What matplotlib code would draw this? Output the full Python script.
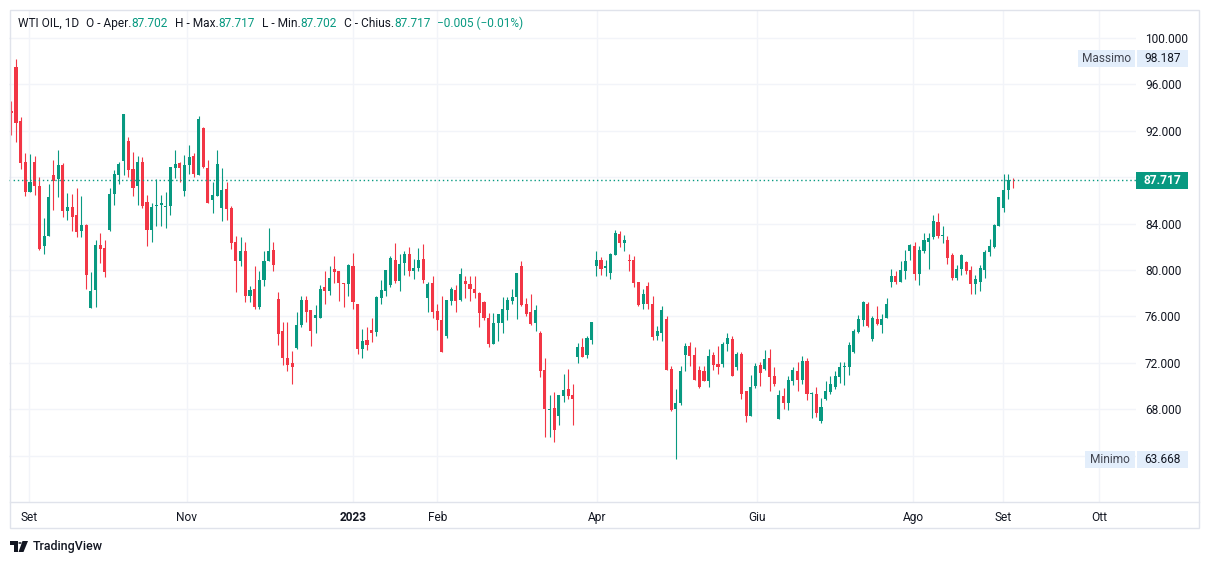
import numpy as np
import matplotlib.pyplot as plt
import matplotlib.transforms as mtransforms
from matplotlib.patches import Rectangle, Polygon, Circle
from matplotlib.lines import Line2D

plt.rcParams['font.family'] = ['Roboto', 'DejaVu Sans']

# daily candles WTI OIL
opens = [93.7, 97.5, 92.8, 89.3, 86.75, 89.3, 87.2, 82.1, 82.95, 88.2,
         87.8, 89.05, 85.1, 85.4, 84.7, 83.4, 83.9, 76.7, 78.25, 82.15,
         81.9, 83.45, 86.55, 88.2, 89.4, 91.1, 88.7, 87.2, 89.35, 85.9,
         83.45, 85.5, 85.6, 85.4, 85.5, 88.8, 89.2, 86.85, 89.05, 89.8,
         88.2, 92.2, 88.8, 86.0, 86.4, 85.35, 86.95, 85.3, 82.45, 80.75,
         81.6, 77.8, 78.4, 76.85, 79.15, 80.75, 81.75, 77.5, 74.7, 72.45,
         71.95, 73.3, 75.25, 77.4, 76.55, 75.85, 75.9, 78.5, 78.2, 80.05,
         79.9, 78.9, 78.75, 80.35, 77.1, 73.15, 73.95, 74.8, 74.65, 77.6,
         78.2, 78.7, 80.9, 79.05, 80.6, 81.4, 79.95, 80.15, 80.95, 77.6,
         78.9, 76.5, 75.7, 74.3, 77.3, 78.3, 77.4, 79.05, 78.8, 78.4,
         78.0, 77.2, 75.9, 73.6, 75.4, 75.45, 76.55, 77.3, 77.65, 80.35,
         77.1, 76.35, 75.45, 74.55, 71.4, 67.9, 68.1, 67.4, 69.15, 69.7,
         69.2, 72.5, 73.4, 72.7, 74.0, 80.3, 80.85, 80.2, 79.7, 81.25,
         83.1, 82.3, 80.9, 80.9, 78.95, 77.05, 78.6, 77.05, 74.3, 74.6,
         75.75, 71.45, 68.0, 68.5, 72.65, 73.45, 72.65, 71.4, 71.25, 70.4,
         72.7, 71.9, 71.9, 73.6, 74.05, 71.65, 72.8, 69.6, 67.4, 70.0,
         71.85, 71.5, 72.4, 70.85, 67.15, 69.1, 68.5, 70.4, 71.25, 70.5,
         72.15, 69.3, 69.3, 66.95, 68.85, 69.5, 69.9, 70.8, 71.6, 71.65,
         72.95, 74.65, 75.65, 77.1, 74.05, 75.8, 75.3, 75.9, 79.0, 79.45,
         79.0, 79.9, 81.65, 82.05, 79.65, 81.65, 82.45, 82.8, 84.15, 82.9,
         82.55, 81.25, 79.3, 80.05, 80.65, 80.0, 78.8, 79.0, 80.0, 81.55,
         81.95, 83.75, 85.3, 86.9, 87.76]
highs = [94.6, 98.187, 93.2, 90.1, 89.99, 89.8, 88.05, 84.5, 87.4, 89.5,
         90.3, 89.25, 86.6, 86.55, 87.1, 86.4, 83.95, 79.8, 82.6, 83.2,
         82.6, 87.1, 88.6, 89.3, 93.45, 91.5, 90.2, 89.8, 89.75, 86.45,
         85.75, 87.8, 86.5, 86.7, 88.9, 90.35, 89.3, 89.9, 90.8, 90.1,
         93.3, 92.35, 89.5, 87.55, 90.35, 88.75, 87.55, 85.5, 82.9, 82.8,
         82.4, 78.6, 80.3, 79.95, 81.65, 83.6, 82.45, 78.1, 75.5, 75.5,
         73.0, 76.4, 77.75, 77.75, 76.55, 77.0, 78.7, 79.9, 80.35, 81.2,
         79.95, 78.9, 80.55, 81.5, 77.1, 74.9, 75.1, 75.85, 77.8, 79.15,
         80.0, 81.2, 82.35, 81.35, 81.65, 82.0, 80.95, 81.9, 82.25, 79.0,
         79.45, 77.05, 77.75, 77.4, 78.5, 78.7, 80.15, 79.45, 79.45, 79.5,
         78.1, 77.3, 76.25, 76.25, 76.2, 77.7, 77.7, 78.4, 79.7, 80.8,
         77.55, 77.9, 77.0, 74.7, 72.4, 69.2, 69.5, 69.2, 71.0, 71.45,
         70.15, 73.7, 74.15, 74.35, 75.5, 81.65, 81.1, 80.9, 81.5, 83.45,
         83.35, 83.0, 81.4, 81.2, 78.95, 78.35, 78.95, 77.8, 75.15, 76.9,
         76.05, 71.7, 69.75, 71.75, 73.7, 73.8, 73.4, 71.7, 71.7, 73.15,
         72.9, 73.45, 73.8, 74.55, 74.3, 72.95, 72.9, 69.6, 70.95, 72.0,
         72.1, 73.1, 73.2, 71.65, 69.65, 69.8, 70.85, 71.65, 72.1, 72.55,
         72.45, 69.45, 69.9, 68.95, 70.4, 70.85, 71.3, 72.05, 72.1, 73.8,
         74.9, 76.15, 77.3, 77.2, 76.0, 76.9, 76.2, 77.6, 80.1, 79.9,
         80.8, 81.7, 82.25, 82.4, 82.1, 83.15, 83.15, 84.7, 84.9, 83.75,
         82.9, 81.45, 80.4, 81.4, 80.75, 80.3, 79.6, 80.45, 81.7, 82.7,
         83.95, 86.3, 88.25, 88.25, 87.9]
lows = [91.6, 91.06, 88.7, 86.4, 86.7, 86.5, 81.7, 81.4, 82.9, 85.2,
        86.3, 84.6, 84.3, 83.35, 82.85, 82.8, 78.4, 76.7, 76.85, 80.6,
        79.4, 83.4, 85.6, 87.45, 88.2, 88.05, 86.4, 85.6, 85.3, 82.1,
        82.45, 83.8, 83.8, 83.6, 84.75, 87.9, 87.6, 86.4, 88.3, 88.05,
        88.2, 88.8, 85.8, 84.95, 86.4, 84.25, 84.3, 81.8, 78.1, 80.3,
        77.2, 77.2, 76.6, 76.6, 78.65, 80.75, 79.95, 73.5, 71.85, 71.25,
        70.2, 73.2, 75.1, 75.5, 73.45, 74.55, 75.85, 77.05, 77.85, 78.85,
        77.35, 76.85, 77.8, 76.6, 72.8, 72.45, 73.1, 73.8, 74.3, 77.05,
        77.8, 78.55, 78.85, 78.2, 79.6, 79.45, 79.25, 79.9, 78.85, 76.4,
        75.9, 74.8, 72.95, 74.15, 77.0, 76.4, 77.3, 77.6, 77.3, 77.6,
        75.1, 75.7, 73.4, 73.6, 73.9, 74.6, 75.7, 77.1, 75.75, 76.9,
        76.0, 75.25, 74.7, 70.75, 65.6, 65.6, 65.2, 66.65, 68.6, 68.85,
        66.6, 72.0, 72.5, 72.4, 73.6, 79.5, 79.55, 79.5, 79.2, 81.25,
        82.0, 81.65, 79.95, 78.5, 76.9, 76.6, 76.6, 74.0, 74.0, 73.9,
        71.4, 67.85, 63.668, 68.35, 71.3, 71.75, 70.5, 69.85, 70.4, 69.95,
        71.4, 71.0, 71.6, 73.0, 70.85, 71.4, 68.85, 66.9, 67.4, 69.85,
        70.0, 71.4, 69.6, 70.0, 67.15, 68.0, 67.9, 70.05, 69.55, 70.15,
        68.75, 67.2, 67.35, 66.85, 68.75, 69.35, 69.75, 70.25, 70.1, 70.95,
        72.85, 74.55, 75.2, 75.05, 73.85, 75.3, 74.6, 75.9, 78.5, 78.75,
        79.0, 79.2, 80.85, 79.1, 78.7, 81.5, 80.1, 82.65, 82.75, 82.35,
        80.5, 79.15, 79.15, 79.6, 79.65, 77.95, 77.95, 78.2, 79.35, 81.2,
        81.9, 83.75, 85.0, 86.15, 87.05]
closes = [93.5, 92.7, 89.2, 86.7, 87.6, 87.2, 81.8, 82.9, 86.3, 87.7,
          89.05, 85.1, 85.4, 84.6, 83.3, 83.9, 79.6, 78.2, 82.15, 81.8,
          79.85, 86.55, 88.3, 89.15, 93.45, 88.6, 87.1, 89.35, 85.5, 83.45,
          85.45, 85.6, 85.8, 85.5, 88.9, 89.1, 88.8, 89.05, 89.75, 88.3,
          93.0, 88.85, 85.8, 86.45, 89.15, 86.9, 85.25, 82.3, 80.75, 81.6,
          77.75, 78.3, 76.85, 79.15, 80.8, 81.65, 80.45, 74.5, 72.45, 71.85,
          71.6, 75.3, 77.4, 76.4, 74.7, 76.1, 78.4, 78.2, 79.35, 79.85,
          78.85, 78.75, 80.45, 77.2, 73.15, 73.85, 73.5, 74.6, 77.7, 78.3,
          80.0, 81.0, 79.05, 80.5, 81.4, 79.95, 80.15, 80.85, 79.1, 78.8,
          76.4, 75.7, 72.95, 77.4, 78.35, 77.35, 79.65, 78.75, 78.35, 78.0,
          76.3, 75.9, 73.6, 75.45, 76.2, 76.6, 77.45, 77.65, 79.7, 77.0,
          76.2, 75.35, 76.55, 71.3, 68.0, 68.05, 66.2, 69.2, 69.65, 69.15,
          68.85, 73.35, 72.5, 74.15, 75.5, 80.85, 80.1, 80.35, 81.4, 83.15,
          82.3, 82.6, 80.8, 78.9, 77.0, 77.95, 77.05, 74.25, 74.7, 76.55,
          71.4, 67.95, 68.55, 71.3, 73.45, 72.55, 70.5, 69.95, 70.4, 72.6,
          71.8, 71.65, 73.6, 74.1, 70.85, 72.8, 69.3, 67.4, 69.95, 71.7,
          71.15, 72.3, 70.8, 70.15, 69.2, 68.55, 70.5, 71.4, 70.55, 72.15,
          69.3, 69.4, 67.7, 68.15, 69.55, 70.2, 70.85, 71.65, 71.7, 73.55,
          74.75, 75.8, 77.2, 75.15, 75.85, 75.35, 75.75, 77.05, 79.5, 79.0,
          80.0, 80.75, 82.15, 79.65, 81.75, 82.6, 82.75, 84.25, 82.9, 83.05,
          81.05, 79.35, 80.05, 81.25, 79.95, 78.8, 79.25, 80.2, 81.55, 82.05,
          83.9, 86.25, 86.9, 87.75, 87.717]

# time axis labels, placed at the bar index of each month start
month_labels = ['Set', 'Nov', '2023', 'Feb', 'Apr', 'Giu', 'Ago', 'Set', 'Ott']
month_bars = [3.8, 37.5, 73.0, 91.0, 125.2, 159.4, 192.7, 211.9, 232.4]
price_ticks = [64, 68, 72, 76, 80, 84, 88, 92, 96, 100]

header_parts = [('WTI OIL, 1D', 'dark'), ('O - Aper.', 'dark'), ('87.702', 'green'),
                ('H - Max.', 'dark'), ('87.717', 'green'), ('L - Min.', 'dark'),
                ('87.702', 'green'), ('C - Chius.', 'dark'), ('87.717', 'green'),
                ('\u22120.005 (\u22120.01%)', 'green')]

GREEN = '#089981'
RED = '#F23645'
DARK = '#131722'
GRID = '#F2F4F9'
BORDER = '#E0E3EB'
W, H = 1209, 564

def fx(px):
    return px / W

def fy(py):
    return 1 - py / H

fig = plt.figure(figsize=(W / 100, H / 100), dpi=100)
fig.patch.set_facecolor('white')
ax = fig.add_axes([fx(9), fy(502), fx(1136) - fx(9), fy(10) - fy(502)])
ax.set_facecolor('white')

o = np.array(opens)
h = np.array(highs)
l = np.array(lows)
c = np.array(closes)
x = np.arange(len(o))
up = c >= o
cols = np.where(up, GREEN, RED)

ax.vlines(x, l, h, colors=cols, linewidth=0.8, zorder=3)
body_bottom = np.minimum(o, c)
body_h = np.maximum(np.abs(c - o), 0.07)
ax.bar(x, body_h, bottom=body_bottom, width=0.66, color=cols, linewidth=0, zorder=4)

ax.set_xlim(-0.49, 240.3)
ax.set_ylim(60.0, 102.41)

ax.set_xticks(month_bars)
ax.set_xticklabels(month_labels)
for lbl in ax.get_xticklabels():
    if lbl.get_text() == '2023':
        lbl.set_fontweight('bold')
ax.set_yticks(price_ticks)
# 88.000 sits fully under the last-price box in the reference
ax.set_yticklabels(['' if p == 88 else f'{p:.3f}' for p in price_ticks])
ax.yaxis.tick_right()
ax.tick_params(axis='both', length=0, labelsize=8.6, labelcolor=DARK)
ax.tick_params(axis='x', pad=6.5)
ax.tick_params(axis='y', pad=6.5)
ax.grid(True, color=GRID, linewidth=1, zorder=0)
for s in ax.spines.values():
    s.set_visible(False)

last = closes[-1]
ax.axhline(last, color=GREEN, linestyle=(0, (1, 2)), linewidth=1.0, zorder=5)

blend = mtransforms.blended_transform_factory(fig.transFigure, ax.transData)
box_h = 17 / 11.6

def price_box(x0, x1, y, text, fc, tc, weight='normal'):
    r = Rectangle((fx(x0), y - box_h / 2), fx(x1) - fx(x0), box_h, transform=blend,
                  facecolor=fc, edgecolor='none', clip_on=False, zorder=10)
    fig.add_artist(r)
    fig.text(fx((x0 + x1) / 2), y, text, transform=blend, ha='center', va='center',
             color=tc, fontsize=8.6, fontweight=weight, zorder=11)

price_box(1136, 1188, last, f'{last:.3f}', GREEN, 'white', 'bold')
hi = max(highs)
lo = min(lows)
price_box(1078, 1135, hi, 'Massimo', '#E3EEFB', '#434651')
price_box(1137, 1188, hi, f'{hi:.3f}', '#E3EEFB', DARK)
price_box(1085, 1135, lo, 'Minimo', '#E3EEFB', '#434651')
price_box(1137, 1188, lo, f'{lo:.3f}', '#E3EEFB', DARK)

# frame and time axis separator
fig.add_artist(Rectangle((fx(9.5), fy(527.5)), fx(1198.5) - fx(9.5), fy(9.5) - fy(527.5),
                         transform=fig.transFigure, fill=False, edgecolor=BORDER, linewidth=1))
fig.add_artist(Line2D([fx(9.5), fx(1198.5)], [fy(502), fy(502)], transform=fig.transFigure,
                      color=BORDER, linewidth=1))

# legend line on top
t = fig.text(fx(18), fy(23.5), header_parts[0][0], color=DARK, fontsize=8.6, va='center', ha='left')
gaps = [0, 5, 0, 5, 0, 5, 0, 5, 0, 5]
renderer = fig.canvas.get_renderer()
for (s, kind), g in zip(header_parts[1:], gaps[1:]):
    t = fig.text(1, 0, s, color=GREEN if kind == 'green' else DARK, fontsize=8.6, ha='left',
                 va='bottom', transform=mtransforms.offset_copy(
                     mtransforms.BboxTransformTo(t.get_window_extent(renderer)),
                     fig=fig, x=g, y=0, units='points'))

# TradingView logo
logo = [Polygon([(fx(10), fy(541)), (fx(17.5), fy(541)), (fx(17.5), fy(552)), (fx(14), fy(552)),
                 (fx(14), fy(544.5)), (fx(10), fy(544.5))], closed=True),
        Circle((fx(20), fy(543)), 1.7 / W),
        Polygon([(fx(22.5), fy(541)), (fx(28), fy(541)), (fx(23.5), fy(552)), (fx(18.5), fy(552))],
                closed=True)]
for p in logo:
    p.set_transform(fig.transFigure)
    p.set_facecolor(DARK)
    p.set_edgecolor('none')
    fig.add_artist(p)
fig.text(fx(33), fy(546.5), 'TradingView', color=DARK, fontsize=9, fontweight='medium',
         va='center', ha='left')

fig.savefig('out.png', dpi=100, facecolor='white')
